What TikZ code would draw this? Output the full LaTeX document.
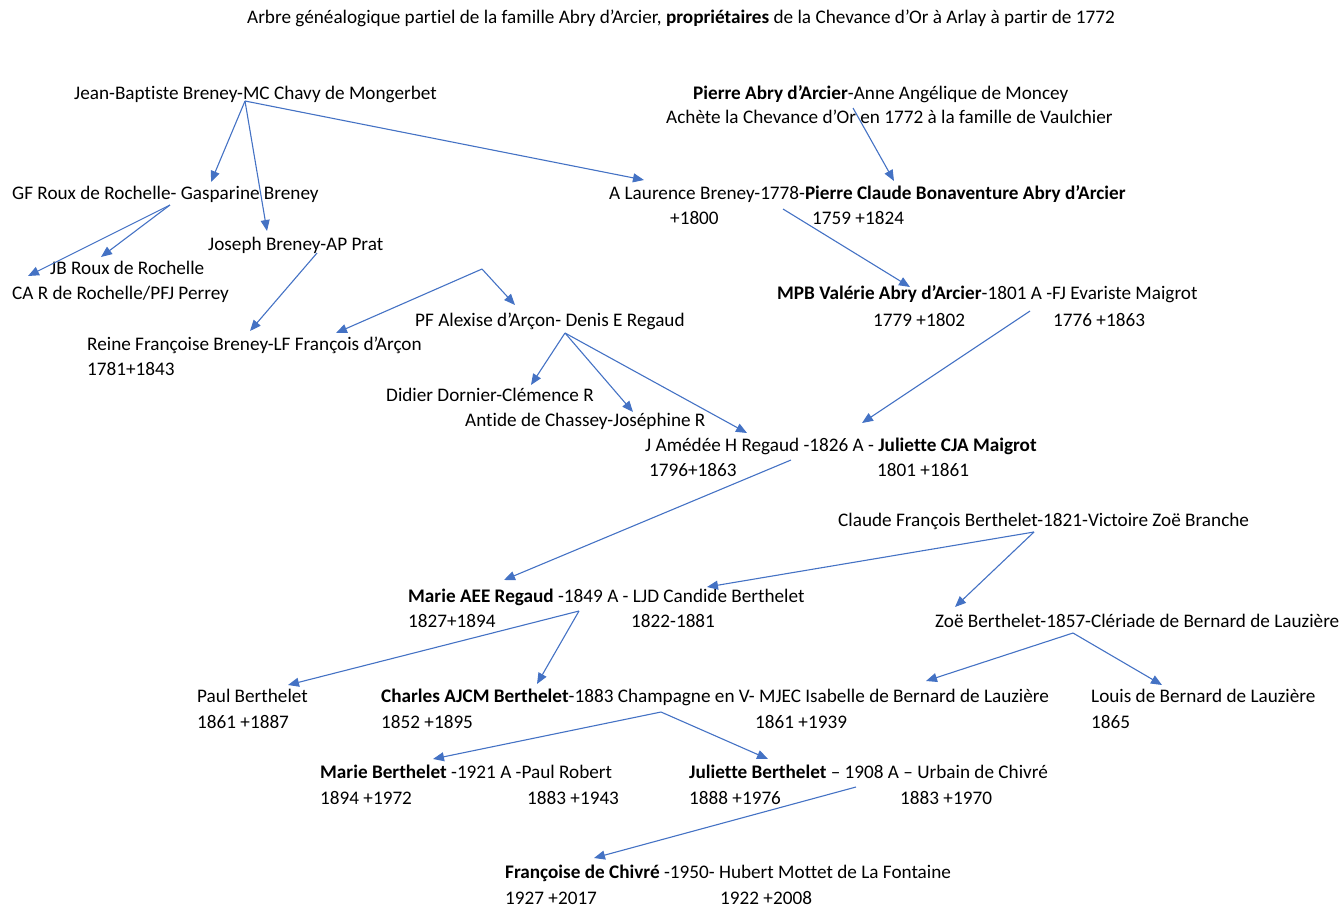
\documentclass[tikz,border=0pt]{standalone}
\usepackage{fontspec}
\setmainfont[Ligatures=NoCommon]{Carlito}
\usetikzlibrary{arrows.meta}
\definecolor{lien}{HTML}{4472C4}

\begin{document}
\begin{tikzpicture}[x=1pt,y=-1pt,
    txt/.style={anchor=base west,inner sep=0pt,font=\fontsize{19.2}{25}\selectfont},
    fl/.style={draw=lien,line width=1.1pt,-{Triangle[length=11pt,width=9pt]}}]
      % 1. cadre de la page
      \useasboundingbox (0,0) rectangle (1344,908);

      % 2. titre
      \node[txt,anchor=base] (titre) at (681,23) {Arbre généalogique partiel de la famille Abry d’Arcier, \textbf{propriétaires} de la Chevance d’Or à Arlay à partir de 1772};

      % 3. les couples, de haut en bas
      \node[txt] (jb) at (74,99) {Jean-Baptiste Breney-MC Chavy de Mongerbet};
      \node[txt] (pa) at (693,99) {\textbf{Pierre Abry d’Arcier}-Anne Angélique de Moncey};
      \node[txt] (pa2) at (666,123) {Achète la Chevance d’Or en 1772 à la famille de Vaulchier};
      \node[txt] (gf) at (12,199) {GF Roux de Rochelle- Gasparine Breney};
      \node[txt] (al) at (609,199) {A Laurence Breney-1778-\textbf{Pierre Claude Bonaventure Abry d’Arcier}};
      \node[txt] (al-n1) at (670,224) {+1800};
      \node[txt] (al-n2) at (812,224) {1759 +1824};
      \node[txt] (jo) at (208,250) {Joseph Breney-AP Prat};
      \node[txt] (jbr) at (50,274) {JB Roux de Rochelle};
      \node[txt] (ca) at (12,299) {CA R de Rochelle/PFJ Perrey};
      \node[txt] (mpb) at (777,299) {\textbf{MPB Valérie Abry d’Arcier}-1801 A -FJ Evariste Maigrot};
      \node[txt] (mpb-n1) at (873,326) {1779 +1802};
      \node[txt] (mpb-n2) at (1053,326) {1776 +1863};
      \node[txt] (pf) at (415,326) {PF Alexise d’Arçon- Denis E Regaud};
      \node[txt] (rf) at (87,350) {Reine Françoise Breney-LF François d’Arçon};
      \node[txt] (rf-n) at (87,375) {1781+1843};
      \node[txt] (dd) at (386,401) {Didier Dornier-Clémence R};
      \node[txt] (ad) at (465,426) {Antide de Chassey-Joséphine R};
      \node[txt] (ja) at (645,451) {J Amédée H Regaud -1826 A - \textbf{Juliette CJA Maigrot}};
      \node[txt] (ja-n1) at (649,476) {1796+1863};
      \node[txt] (ja-n2) at (877,476) {1801 +1861};
      \node[txt] (cf) at (838,526) {Claude François Berthelet-1821-Victoire Zoë Branche};
      \node[txt] (ma) at (408,602) {\textbf{Marie AEE Regaud} -1849 A - LJD Candide Berthelet};
      \node[txt] (ma-n1) at (408,627) {1827+1894};
      \node[txt] (ma-n2) at (631,627) {1822-1881};
      \node[txt] (zb) at (935,627) {Zoë Berthelet-1857-Clériade de Bernard de Lauzière};
      \node[txt] (pb) at (197,702) {Paul Berthelet};
      \node[txt] (pb-n) at (197,728) {1861 +1887};
      \node[txt] (ch) at (381,702) {\textbf{Charles AJCM Berthelet}-1883 Champagne en V- MJEC Isabelle de Bernard de Lauzière};
      \node[txt] (ch-n1) at (381,728) {1852 +1895};
      \node[txt] (ch-n2) at (755,728) {1861 +1939};
      \node[txt] (lb) at (1091,702) {Louis de Bernard de Lauzière};
      \node[txt] (lb-n) at (1091,728) {1865};
      \node[txt] (mb) at (320,778) {\textbf{Marie Berthelet} -1921 A -Paul Robert};
      \node[txt] (mb-n1) at (320,804) {1894 +1972};
      \node[txt] (mb-n2) at (527,804) {1883 +1943};
      \node[txt] (jub) at (689,778) {\textbf{Juliette Berthelet} – 1908 A – Urbain de Chivré};
      \node[txt] (jub-n1) at (689,804) {1888 +1976};
      \node[txt] (jub-n2) at (900,804) {1883 +1970};
      \node[txt] (fc) at (505,878) {\textbf{Françoise de Chivré} -1950- Hubert Mottet de La Fontaine};
      \node[txt] (fc-n1) at (505,904) {1927 +2017};
      \node[txt] (fc-n2) at (720,904) {1922 +2008};

      % 4. départs des flèches (sous chaque couple)
      \coordinate (jb-d) at (245,101);
      \coordinate (pa-d) at (853,108);
      \coordinate (gf-d) at (170,205);
      \coordinate (jo-d) at (317,253);
      \coordinate (sommet) at (482,269);
      \coordinate (al-d) at (783,209);
      \coordinate (mpb-d) at (1030,311);
      \coordinate (pf-d) at (565,333);
      \coordinate (ja-d) at (791,460);
      \coordinate (cf-d) at (1034,532);
      \coordinate (ma-d) at (579,611);
      \coordinate (zb-d) at (1073,633);
      \coordinate (ch-d) at (661,712);
      \coordinate (jub-d) at (856,787);

      % 5. pointes des flèches
      \coordinate (gf-a) at (211,182);
      \coordinate (jo-a) at (267,231);
      \coordinate (al-a1) at (644,180);
      \coordinate (al-a2) at (894,181);
      \coordinate (ca-a) at (28,276);
      \coordinate (jbr-a) at (101,257);
      \coordinate (rf-a1) at (250,331);
      \coordinate (rf-a2) at (336,333);
      \coordinate (pf-a) at (515,305);
      \coordinate (mpb-a) at (910,287);
      \coordinate (ja-a1) at (862,423);
      \coordinate (dd-a) at (531,385);
      \coordinate (ad-a) at (633,412);
      \coordinate (ja-a2) at (747,433);
      \coordinate (ma-a1) at (504,580);
      \coordinate (ma-a2) at (707,587);
      \coordinate (zb-a) at (955,607);
      \coordinate (pb-a) at (288,685);
      \coordinate (ch-a1) at (537,684);
      \coordinate (ch-a2) at (926,681);
      \coordinate (lb-a) at (1162,685);
      \coordinate (mb-a) at (433,759);
      \coordinate (jub-a) at (768,759);
      \coordinate (fc-a) at (594,858);

      % 6. les flèches
      \foreach \a/\b in {jb-d/gf-a, jb-d/jo-a, jb-d/al-a1, pa-d/al-a2,
          gf-d/ca-a, gf-d/jbr-a, jo-d/rf-a1, sommet/rf-a2, sommet/pf-a,
          al-d/mpb-a, mpb-d/ja-a1, pf-d/dd-a, pf-d/ad-a, pf-d/ja-a2,
          ja-d/ma-a1, cf-d/ma-a2, cf-d/zb-a, ma-d/pb-a, ma-d/ch-a1,
          zb-d/ch-a2, zb-d/lb-a, ch-d/mb-a, ch-d/jub-a, jub-d/fc-a}
        \draw[fl] (\a) -- (\b);
    \end{tikzpicture}
\end{document}
